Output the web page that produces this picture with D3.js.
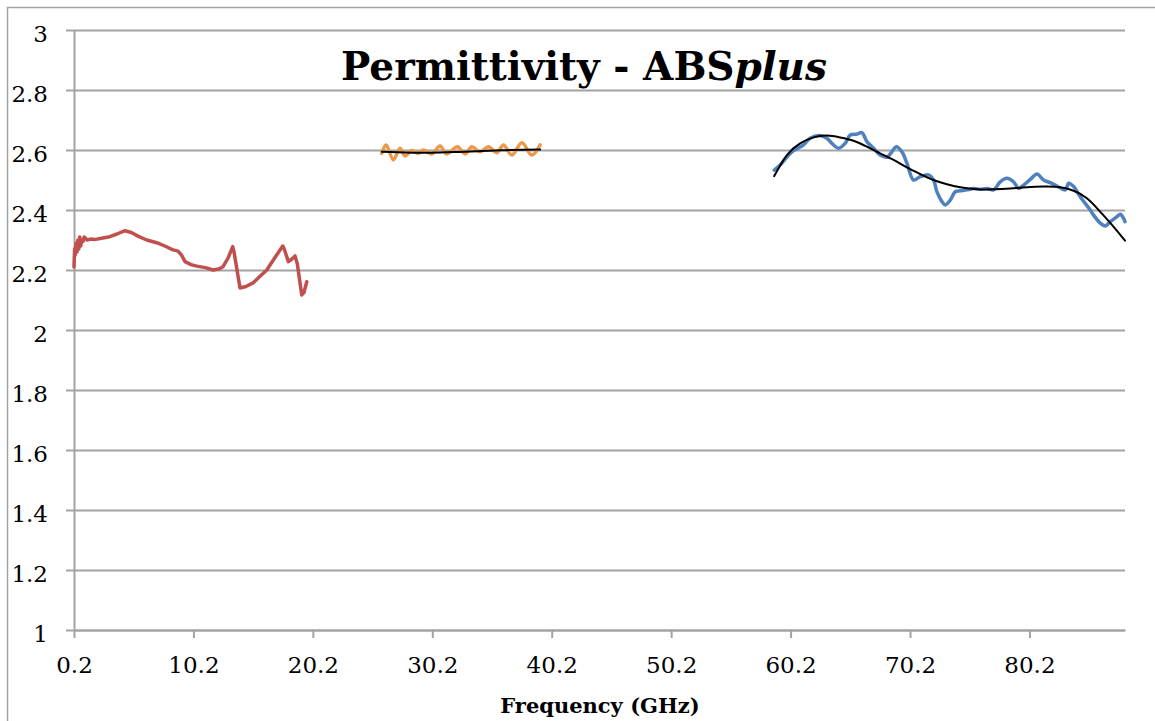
<!DOCTYPE html>
<html>
<head>
<meta charset="utf-8">
<script src="https://cdn.jsdelivr.net/npm/d3@7"></script>
<style>
  body { margin: 0; background: #fff; }
  text { font-family: "DejaVu Serif", serif; }
</style>
</head>
<body>
<script>
// tick values
var xTicks = [0.2, 10.2, 20.2, 30.2, 40.2, 50.2, 60.2, 70.2, 80.2];
var yTicks = [1, 1.2, 1.4, 1.6, 1.8, 2, 2.2, 2.4, 2.6, 2.8, 3];

// band 1 (red)
var redFreq = [0.2, 0.25, 0.3, 0.38, 0.45, 0.52, 0.6, 0.68, 0.76, 0.85, 0.95, 1.05, 1.3, 1.6, 2.0, 2.5, 3.2, 3.8, 4.47, 5.0,
               5.6, 6.29, 7.13, 7.8, 8.49, 8.91, 9.2, 9.5, 10.0, 10.48, 11.2, 11.84, 12.3, 12.68, 13.1, 13.49, 13.6, 14.1,
               14.6, 15.19, 15.8, 16.34, 17.0, 17.68, 17.8, 18.15, 18.4, 18.71, 18.9, 19.27, 19.45, 19.69];
var redEps  = [2.21, 2.27, 2.25, 2.29, 2.26, 2.30, 2.27, 2.31, 2.28, 2.30, 2.295, 2.31, 2.30, 2.303, 2.302, 2.306, 2.311, 2.32, 2.331, 2.325,
               2.312, 2.30, 2.291, 2.28, 2.267, 2.263, 2.25, 2.228, 2.218, 2.213, 2.208, 2.20, 2.203, 2.211, 2.24, 2.278, 2.26, 2.14,
               2.145, 2.157, 2.18, 2.20, 2.24, 2.28, 2.27, 2.228, 2.235, 2.247, 2.22, 2.117, 2.125, 2.161];

// band 2 (orange)
var orangeFreq = [25.97, 26.33, 26.94, 27.50, 27.92, 28.48, 29.04, 29.45, 30.16, 30.85, 31.41, 32.30, 32.95, 33.51, 34.2, 34.9,
                  35.6, 36.16, 36.86, 37.70, 38.53, 39.23];
var orangeEps  = [2.589, 2.617, 2.567, 2.606, 2.58, 2.598, 2.589, 2.60, 2.587, 2.613, 2.587, 2.611, 2.587, 2.611, 2.594, 2.611,
                  2.591, 2.617, 2.583, 2.624, 2.583, 2.617];
var orangeFitFreq = [25.97, 28.0, 30.0, 32.0, 34.0, 36.0, 38.0, 39.23];
var orangeFitEps  = [2.594, 2.592, 2.591, 2.593, 2.596, 2.599, 2.601, 2.602];

// band 3 (blue)
var blueFreq = [58.83, 59.33, 60.31, 61.28, 61.84, 62.62, 63.24, 63.66, 64.21, 64.77, 65.19, 65.75, 66.17, 66.59, 67.15, 67.70,
                68.26, 68.68, 69.04, 69.52, 69.94, 70.50, 71.05, 71.75, 72.17, 72.45, 72.87, 73.15, 73.57, 73.99, 74.40, 74.96,
                75.52, 76.08, 76.64, 77.20, 77.75, 78.31, 78.87, 79.29, 79.71, 80.27, 80.83, 81.38, 81.94, 82.50, 83.20, 83.48,
                83.90, 84.45, 84.87, 85.29, 85.57, 86.13, 86.55, 86.97, 87.53, 87.81, 88.08, 88.2];
var blueEps  = [2.533, 2.55, 2.594, 2.617, 2.639, 2.648, 2.639, 2.622, 2.606, 2.622, 2.65, 2.653, 2.658, 2.628, 2.606, 2.583,
                2.576, 2.594, 2.611, 2.594, 2.556, 2.50, 2.511, 2.517, 2.50, 2.461, 2.428, 2.417, 2.433, 2.461, 2.464, 2.467,
                2.472, 2.469, 2.472, 2.467, 2.494, 2.506, 2.494, 2.472, 2.483, 2.502, 2.52, 2.50, 2.491, 2.48, 2.467, 2.489,
                2.478, 2.444, 2.422, 2.40, 2.383, 2.356, 2.347, 2.361, 2.378, 2.386, 2.372, 2.361];
var blueFitFreq = [58.83, 59.89, 61.0, 62.12, 63.24, 64.35, 65.47, 66.59, 67.70, 68.82, 69.94, 71.05, 72.17, 73.29, 74.40,
                   75.80, 77.20, 78.59, 79.99, 81.38, 82.78, 83.90, 85.01, 86.13, 87.25, 88.2];
var blueFitEps  = [2.513, 2.583, 2.622, 2.642, 2.648, 2.642, 2.631, 2.611, 2.589, 2.567, 2.542, 2.52, 2.50, 2.486, 2.476,
                   2.469, 2.469, 2.472, 2.476, 2.478, 2.476, 2.464, 2.439, 2.394, 2.344, 2.298];

var width   = 1155,
    height  = 721,
    plotL   = 74,
    plotR   = 1125,
    plotT   = 30,
    plotB   = 630;

var gridColor = "#a3a3a3";

const svg = d3.select("body")
    .append("svg")
    .attr("width", width)
    .attr("height", height);

// chart frame
svg.append("rect")
    .attr("x", 7.5).attr("y", 7.5)
    .attr("width", 1300).attr("height", 900)
    .attr("fill", "none")
    .attr("stroke", gridColor)
    .attr("stroke-width", 1.5);

const x = d3.scaleLinear().domain([0.2, 88.2]).range([plotL, plotR]);
const y = d3.scaleLinear().domain([1, 3]).range([plotB, plotT]);

// horizontal gridlines
svg.append("g")
    .attr("transform", `translate(${plotL},0)`)
    .call(d3.axisLeft(y).tickValues(yTicks).tickSize(-(plotR - plotL)).tickFormat(""))
    .call(g => g.select(".domain").remove())
    .call(g => g.selectAll("line").attr("stroke", gridColor).attr("stroke-width", 2));

// y axis
svg.append("g")
    .attr("transform", `translate(${plotL},0)`)
    .call(d3.axisLeft(y).tickValues(yTicks).tickSize(8).tickSizeOuter(0).tickPadding(18)
        .tickFormat(d3.format("~g")))
    .call(g => g.select(".domain").attr("stroke", gridColor).attr("stroke-width", 2))
    .call(g => g.selectAll("line").attr("stroke", gridColor).attr("stroke-width", 2))
    .call(g => g.selectAll("text")
        .attr("dy", "0.52em")
        .style("font-family", "'DejaVu Serif', serif")
        .style("font-size", "23px")
        .attr("fill", "#000"));

// x axis
svg.append("g")
    .attr("transform", `translate(0,${plotB})`)
    .call(d3.axisBottom(x).tickValues(xTicks).tickSize(8).tickSizeOuter(0)
        .tickFormat(d3.format(".1f")))
    .call(g => g.select(".domain").attr("stroke", gridColor).attr("stroke-width", 2))
    .call(g => g.selectAll("line").attr("stroke", gridColor).attr("stroke-width", 2))
    .call(g => g.selectAll("text")
        .attr("y", 43).attr("dy", null)
        .style("font-family", "'DejaVu Serif', serif")
        .style("font-size", "23px")
        .attr("fill", "#000"));

function pairs(fs, vs) {
    return fs.map((f, i) => ({f: f, v: vs[i]}));
}

function drawLine(data, color, w, curve) {
    var line = d3.line()
        .x(d => x(d.f))
        .y(d => y(d.v))
        .curve(curve);
    svg.append("path")
        .datum(data)
        .attr("d", line)
        .attr("fill", "none")
        .attr("stroke", color)
        .attr("stroke-width", w)
        .attr("stroke-linejoin", "round")
        .attr("stroke-linecap", "round");
}

drawLine(pairs(redFreq, redEps), "#c0504d", 3.5, d3.curveLinear);
drawLine(pairs(orangeFreq, orangeEps), "#eb9a4b", 3.5, d3.curveCatmullRom);
drawLine(pairs(blueFreq, blueEps), "#4f81bd", 3.5, d3.curveCatmullRom);
drawLine(pairs(orangeFitFreq, orangeFitEps), "#000", 2, d3.curveNatural);
drawLine(pairs(blueFitFreq, blueFitEps), "#000", 2, d3.curveNatural);

// title
var title = svg.append("text")
    .attr("x", 584)
    .attr("y", 80)
    .attr("text-anchor", "middle")
    .style("font-size", "39px")
    .style("font-weight", "bold");
title.append("tspan").text("Permittivity - ABS");
title.append("tspan").style("font-style", "italic").text("plus");

// x axis title
svg.append("text")
    .attr("x", 600)
    .attr("y", 713)
    .attr("text-anchor", "middle")
    .style("font-size", "21px")
    .style("font-weight", "bold")
    .text("Frequency (GHz)");
</script>
</body>
</html>
